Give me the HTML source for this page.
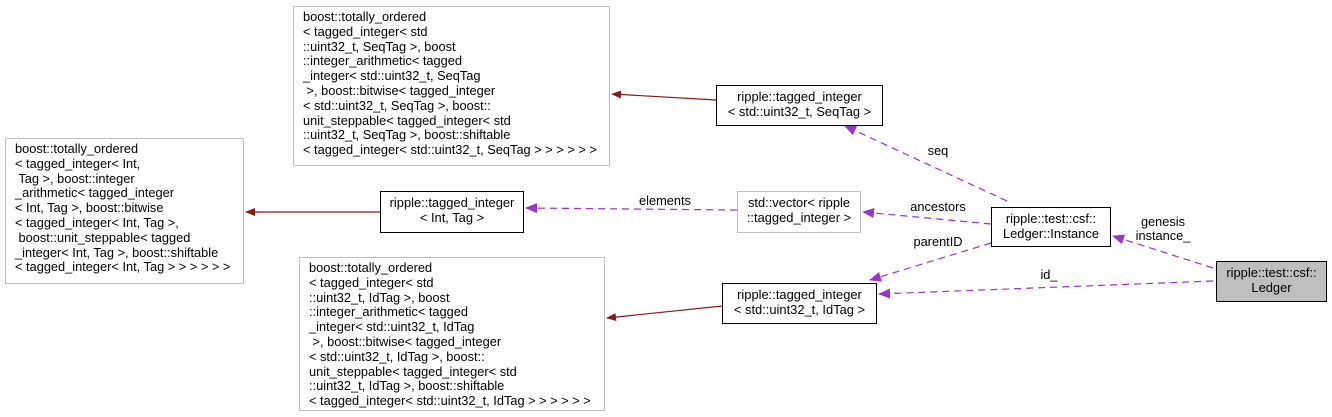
<!DOCTYPE html>
<html><head><meta charset="utf-8"><style>
body{margin:0;background:#fff;width:1332px;height:417px;overflow:hidden;position:relative;font-family:"Liberation Sans",sans-serif;font-size:12.8px;color:#000}
.b{position:absolute;box-sizing:border-box;line-height:14.8px;white-space:pre;overflow:visible}
.g{border:1px solid #bfbfbf;padding:3px 0 0 9px}
.k{border:1px solid #000;text-align:center;padding-top:4px;font-size:12.9px}
svg{position:absolute;left:0;top:0}
</style></head><body>
<svg width="1332" height="417" font-family="Liberation Sans" font-size="12.8">
<defs>
<marker id="r" markerWidth="10" markerHeight="8" refX="9" refY="4" orient="auto" markerUnits="userSpaceOnUse"><path d="M0,0L10,4L0,8z" fill="#8b1a1a"/></marker>
<marker id="p" markerWidth="12" markerHeight="10" refX="11" refY="5" orient="auto" markerUnits="userSpaceOnUse"><path d="M0,0L12,5L0,10z" fill="#9a32cd"/></marker>
</defs>
<g stroke="#8b1a1a" stroke-width="1.2" fill="none">
<line x1="716" y1="100" x2="612" y2="94" marker-end="url(#r)"/>
<line x1="380" y1="212" x2="246" y2="212" marker-end="url(#r)"/>
<line x1="722" y1="306" x2="607" y2="318" marker-end="url(#r)"/>
</g>
<g stroke="#9a32cd" stroke-width="1.2" fill="none" stroke-dasharray="7,5">
<line x1="737" y1="210" x2="526" y2="208" marker-end="url(#p)"/>
<line x1="1007" y1="201" x2="845" y2="126" marker-end="url(#p)"/>
<line x1="991" y1="224" x2="863" y2="212" marker-end="url(#p)"/>
<line x1="991" y1="243" x2="870" y2="280" marker-end="url(#p)"/>
<line x1="1213" y1="268" x2="1113" y2="236" marker-end="url(#p)"/>
<line x1="1213" y1="281" x2="879" y2="294" marker-end="url(#p)"/>
</g>
<g text-anchor="middle">
<text x="665" y="205">elements</text>
<text x="938" y="155">seq</text>
<text x="938" y="211">ancestors</text>
<text x="938" y="246">parentID</text>
<text x="1163" y="226">genesis</text>
<text x="1163" y="240">instance_</text>
<text x="1049" y="279">id_</text>
</g>
</svg>
<div class="b g" style="left:293px;top:6px;width:317px;height:160px">boost::totally_ordered
&lt; tagged_integer&lt; std
::uint32_t, SeqTag &gt;, boost
::integer_arithmetic&lt; tagged
_integer&lt; std::uint32_t, SeqTag
 &gt;, boost::bitwise&lt; tagged_integer
&lt; std::uint32_t, SeqTag &gt;, boost::
unit_steppable&lt; tagged_integer&lt; std
::uint32_t, SeqTag &gt;, boost::shiftable
&lt; tagged_integer&lt; std::uint32_t, SeqTag &gt; &gt; &gt; &gt; &gt; &gt;</div>
<div class="b g" style="left:5px;top:138px;width:239px;height:146px">boost::totally_ordered
&lt; tagged_integer&lt; Int,
 Tag &gt;, boost::integer
_arithmetic&lt; tagged_integer
&lt; Int, Tag &gt;, boost::bitwise
&lt; tagged_integer&lt; Int, Tag &gt;,
 boost::unit_steppable&lt; tagged
_integer&lt; Int, Tag &gt;, boost::shiftable
&lt; tagged_integer&lt; Int, Tag &gt; &gt; &gt; &gt; &gt; &gt;</div>
<div class="b g" style="left:299px;top:257px;width:306px;height:154px">boost::totally_ordered
&lt; tagged_integer&lt; std
::uint32_t, IdTag &gt;, boost
::integer_arithmetic&lt; tagged
_integer&lt; std::uint32_t, IdTag
 &gt;, boost::bitwise&lt; tagged_integer
&lt; std::uint32_t, IdTag &gt;, boost::
unit_steppable&lt; tagged_integer&lt; std
::uint32_t, IdTag &gt;, boost::shiftable
&lt; tagged_integer&lt; std::uint32_t, IdTag &gt; &gt; &gt; &gt; &gt; &gt;</div>
<div class="b k" style="left:380px;top:191px;width:144px;height:42px">ripple::tagged_integer
&lt; Int, Tag &gt;</div>
<div class="b k" style="left:716px;top:85px;width:167px;height:41px">ripple::tagged_integer
&lt; std::uint32_t, SeqTag &gt;</div>
<div class="b k" style="left:737px;top:191px;width:124px;height:42px;border-color:#bfbfbf">std::vector&lt; ripple
::tagged_integer &gt;</div>
<div class="b k" style="left:991px;top:207px;width:120px;height:40px">ripple::test::csf::
Ledger::Instance</div>
<div class="b k" style="left:722px;top:283px;width:155px;height:41px">ripple::tagged_integer
&lt; std::uint32_t, IdTag &gt;</div>
<div class="b k" style="left:1216px;top:261px;width:111px;height:41px;background:#bfbfbf">ripple::test::csf::
Ledger</div>
</body></html>
